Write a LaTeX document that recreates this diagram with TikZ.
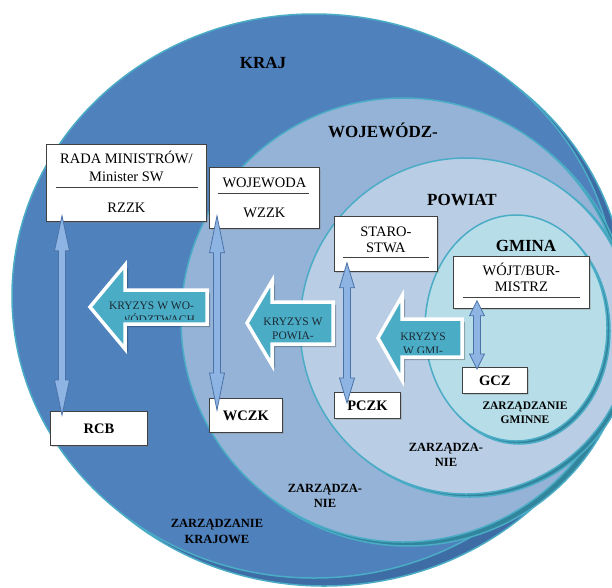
\documentclass[tikz,border=0pt]{standalone}
\usepackage{fontspec}
\setmainfont{Liberation Serif}
\newfontfamily\diagfont{Liberation Serif}
\usetikzlibrary{positioning, calc, shapes.geometric, shadows}

\definecolor{krajfill}{HTML}{4F81BD}
\definecolor{krajside}{HTML}{3E6DA6}
\definecolor{wojfill}{HTML}{95B3D7}
\definecolor{powfill}{HTML}{B9CDE5}
\definecolor{gmifill}{HTML}{B7DEE8}
\definecolor{rim}{HTML}{4BACC6}
\definecolor{rimside}{HTML}{31859C}
\definecolor{crisisteal}{HTML}{4BACC6}
\definecolor{crisisink}{HTML}{1B2A33}
\definecolor{linkfill}{HTML}{8DB4E2}
\definecolor{linkline}{HTML}{4A72A8}
\definecolor{boxline}{HTML}{404040}

\tikzset{
	level/.style={ellipse, draw=rim, line width=1.5pt, inner sep=0pt},
	side/.style={level, fill=rimside},
	box/.style={rectangle, draw=boxline, fill=white, line width=0.8pt, inner sep=0pt, anchor=north west,
		drop shadow={shadow xshift=1.5pt, shadow yshift=-1.5pt, opacity=0.3}},
	unit/.style={box, font=\diagfont\bfseries\fontsize{14.5}{16}\selectfont},
	boxtext/.style={font=\diagfont\fontsize{14.5}{16}\selectfont, inner sep=0pt, anchor=base},
	boxrule/.style={draw=boxline, line width=0.8pt},
	title/.style={font=\diagfont\bfseries\fontsize{17}{19}\selectfont, inner sep=0pt, anchor=base},
	mgmt/.style={font=\diagfont\bfseries\fontsize{12.5}{15}\selectfont, inner sep=0pt, anchor=base},
	link/.style={draw=linkline, fill=linkfill, line width=0.8pt, line join=miter},
	crisis/.style={fill=crisisteal, draw=white, line width=3.5pt, line join=miter},
	crisisshadow/.style={fill=black, opacity=0.25},
	crisistext/.style={font=\diagfont\fontsize{11.5}{13}\selectfont, text=crisisink, inner sep=0pt, anchor=base}
}

\newcommand{\updown}[3]{% upper tip, lower tip, head length
	\draw[link] let \p1=(#1), \p2=(#2) in
		(\x1,\y1) -- (\x1+7.5pt,\y1-#3) -- (\x1+3.5pt,\y1-#3) -- (\x1+3.5pt,\y2+#3)
		-- (\x1+7.5pt,\y2+#3) -- (\x1,\y2) -- (\x1-7.5pt,\y2+#3) -- (\x1-3.5pt,\y2+#3)
		-- (\x1-3.5pt,\y1-#3) -- (\x1-7.5pt,\y1-#3) -- cycle;
}
\newcommand{\crisis}[6]{% tip, head length, body length, body half height, line 1, line 2
	\path[crisisshadow] ($(#1)+(3,3)$) -- ++(#2,-42) -- ++(0,42-#4) -- ++(#3,0)
		-- ++(0,2*#4) -- ++(-#3,0) -- ++(0,42-#4) -- cycle;
	\path[crisis] (#1) -- ++(#2,-42) -- ++(0,42-#4) -- ++(#3,0)
		-- ++(0,2*#4) -- ++(-#3,0) -- ++(0,42-#4) -- cycle;
	\node[crisistext] at ($(#1)+(#2/2+#3/2+3,2)$) {#5};
	\begin{scope}
		\clip ($(#1)+(#2,-#4)$) rectangle ($(#1)+(#2+#3,#4-5)$);
		\node[crisistext] at ($(#1)+(#2/2+#3/2+3,16)$) {#6};
	\end{scope}
}

\begin{document}
\begin{tikzpicture}[x=1pt, y=-1pt]
	\useasboundingbox (0,0) rectangle (612,587);

	% nested levels, each with its side showing at the lower right
	\node[side, fill=krajside, minimum width=604pt, minimum height=564pt] (krajS) at (324,304) {};
	\node[level, fill=krajfill, minimum width=604pt, minimum height=564pt] (kraj) at (314,296) {};
	\node[side, minimum width=444pt, minimum height=444pt] (wojS) at (408,324) {};
	\node[level, fill=wojfill, minimum width=444pt, minimum height=444pt] (woj) at (403,320) {};
	\node[side, minimum width=332pt, minimum height=336pt] (powS) at (470,329) {};
	\node[level, fill=powfill, minimum width=332pt, minimum height=336pt] (pow) at (466,326) {};
	\node[side, minimum width=182pt, minimum height=226pt] (gmiS) at (519,331) {};
	\node[level, fill=gmifill, minimum width=182pt, minimum height=226pt] (gmi) at (516,328) {};

	\node[title] (krajT) at (263,68) {KRAJ};
	\node[title] (wojT) at (383,137) {WOJEWÓDZ-};
	\node[title] (powT) at (462,205) {POWIAT};
	\node[title] (gmiT) at (526,251) {GMINA};

	% authorities
	\node[box, minimum width=160pt, minimum height=77pt] (rada) at (46,144) {};
	\node[boxtext] (radaA) at ($(rada.north)+(0,19)$) {RADA MINISTRÓW/};
	\node[boxtext] (radaB) at ($(rada.north)+(0,37)$) {Minister SW};
	\draw[boxrule] ($(rada.north west)+(10,43)$) -- ($(rada.north east)+(-9,43)$);
	\node[boxtext] (radaC) at ($(rada.north)+(0,68)$) {RZZK};

	\node[box, minimum width=110pt, minimum height=61pt] (wojewoda) at (209,167) {};
	\node[boxtext] (wojewodaA) at ($(wojewoda.north)+(0,20)$) {WOJEWODA};
	\draw[boxrule] ($(wojewoda.north west)+(9,26)$) -- ($(wojewoda.north east)+(-11,26)$);
	\node[boxtext] (wojewodaB) at ($(wojewoda.north)+(0,50)$) {WZZK};

	\node[box, minimum width=103pt, minimum height=55pt] (staro) at (334,216) {};
	\node[boxtext] (staroA) at ($(staro.north)+(0,20.5)$) {STARO-};
	\node[boxtext] (staroB) at ($(staro.north)+(0,36.5)$) {STWA};
	\draw[boxrule] ($(staro.north west)+(9,41)$) -- ($(staro.north east)+(-9,41)$);

	\node[box, minimum width=136pt, minimum height=52pt] (wojt) at (453,256) {};
	\node[boxtext] (wojtA) at ($(wojt.north)+(0,19.5)$) {WÓJT/BUR-};
	\node[boxtext] (wojtB) at ($(wojt.north)+(0,35.5)$) {MISTRZ};
	\draw[boxrule] ($(wojt.north west)+(10,41)$) -- ($(wojt.north east)+(-10,41)$);

	% crisis centres
	\node[unit, minimum width=97pt, minimum height=34pt] (rcb) at (50,411) {RCB};
	\node[unit, minimum width=73pt, minimum height=34pt] (wczk) at (209,398) {WCZK};
	\node[unit, minimum width=66pt, minimum height=26pt] (pczk) at (334,392) {PCZK};
	\node[unit, minimum width=65pt, minimum height=26pt] (gcz) at (462,367) {GCZ};

	\updown{$(rada.south west)+(16,-6)$}{$(rcb.north)+(0,4)$}{35pt}
	\updown{$(wojewoda.south west)+(8,-13)$}{$(wczk.north)+(0,12)$}{37pt}
	\updown{$(staro.south west)+(13,-9)$}{$(pczk.north)+(0,11)$}{25pt}
	\updown{$(wojt.south west)+(24,-8)$}{$(gcz.north)+(0,2)$}{15pt}

	% crises escalate upwards
	\coordinate (tipW) at (90,307);
	\coordinate (tipP) at (247,323);
	\coordinate (tipG) at (378,338);
	\crisis{tipW}{35}{82}{17}{KRYZYS W WO-}{JEWÓDZTWACH}
	\crisis{tipP}{25}{61}{21}{KRYZYS W}{POWIA-}
	\crisis{tipG}{24}{60}{19}{KRYZYS}{W GMI-}

	% management levels
	\node[mgmt] (mgmtK1) at (217,527) {ZARZĄDZANIE};
	\node[mgmt] (mgmtK2) at (217,543) {KRAJOWE};
	\node[mgmt] (mgmtW1) at (325,492) {ZARZĄDZA-};
	\node[mgmt] (mgmtW2) at (325,507) {NIE};
	\node[mgmt] (mgmtP1) at (446,451) {ZARZĄDZA-};
	\node[mgmt] (mgmtP2) at (446,466) {NIE};
	\node[mgmt, font=\diagfont\bfseries\fontsize{11.5}{13}\selectfont] (mgmtG1) at (525,409) {ZARZĄDZANIE};
	\node[mgmt, font=\diagfont\bfseries\fontsize{11.5}{13}\selectfont] (mgmtG2) at (525,423) {GMINNE};
\end{tikzpicture}
\end{document}
